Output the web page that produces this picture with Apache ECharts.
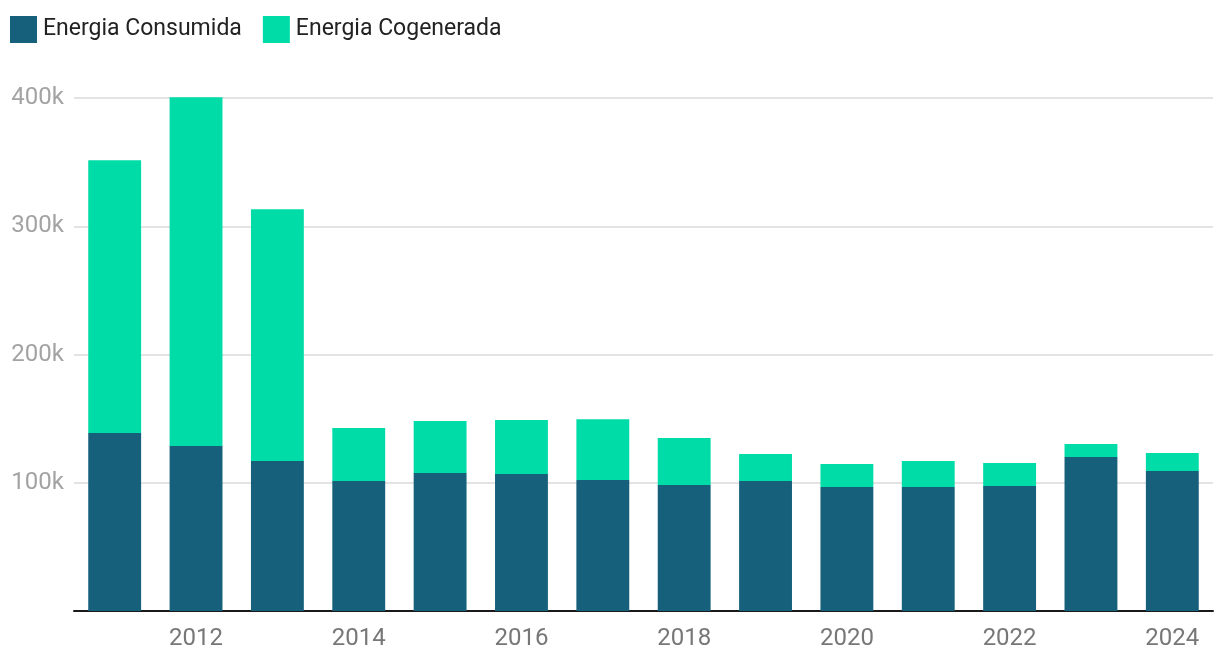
<!DOCTYPE html>
<html>
<head>
<meta charset="utf-8">
<script src="https://cdn.jsdelivr.net/npm/echarts@6/dist/echarts.min.js"></script>
<style>
html,body{margin:0;padding:0;background:#fff;}
#main{width:1220px;height:668px;}
</style>
</head>
<body>
<div id="main"></div>
<script>
const years = ['2011','2012','2013','2014','2015','2016','2017','2018','2019','2020','2021','2022','2023','2024'];
const consumida = [138700,128600,116900,101300,107600,106800,102100,98200,101300,96600,96600,97400,120000,109100];
const cogenerada = [212800,272000,196400,41300,40500,42100,47500,36600,21100,18000,20300,18000,10200,14000];
const yTicks = [0,100000,200000,300000,400000];

const chart = echarts.init(document.getElementById('main'));
chart.setOption({
  animation:false,
  textStyle:{fontFamily:'Roboto'},
  legend:{
    left:10, top:16, padding:0,
    itemWidth:27, itemHeight:27, itemGap:21,
    icon:'rect',
    textStyle:{fontSize:23, color:'#222', fontFamily:'Roboto', padding:[0,0,0,1]},
    data:['Energia Consumida','Energia Cogenerada']
  },
  grid:{left:74, right:7, top:98, bottom:57, containLabel:false},
  xAxis:{
    type:'category', data:years,
    axisTick:{show:false},
    axisLine:{lineStyle:{color:'#1a1a1a', width:2}},
    axisLabel:{interval:(i)=> i%2===1, color:'#777', fontSize:24, margin:16, fontFamily:'Roboto'}
  },
  yAxis:{
    type:'value', min:yTicks[0], max:yTicks[yTicks.length-1], interval:100000,
    axisLine:{show:false}, axisTick:{show:false},
    splitLine:{lineStyle:{color:'#e3e3e3', width:2}},
    axisLabel:{color:'#a3a3a3', fontSize:24, margin:10, fontFamily:'Roboto',
      padding:[3,0,0,0],
      formatter:(v)=> v===0 ? '' : (v/1000)+'k'}
  },
  series:[
    {name:'Energia Consumida', type:'bar', stack:'e', data:consumida, barWidth:'65%', clip:false,
      itemStyle:{color:'#17607b'}},
    {name:'Energia Cogenerada', type:'bar', stack:'e', data:cogenerada, barWidth:'65%', clip:false,
      itemStyle:{color:'#00dca7'}}
  ]
});
</script>
</body>
</html>
